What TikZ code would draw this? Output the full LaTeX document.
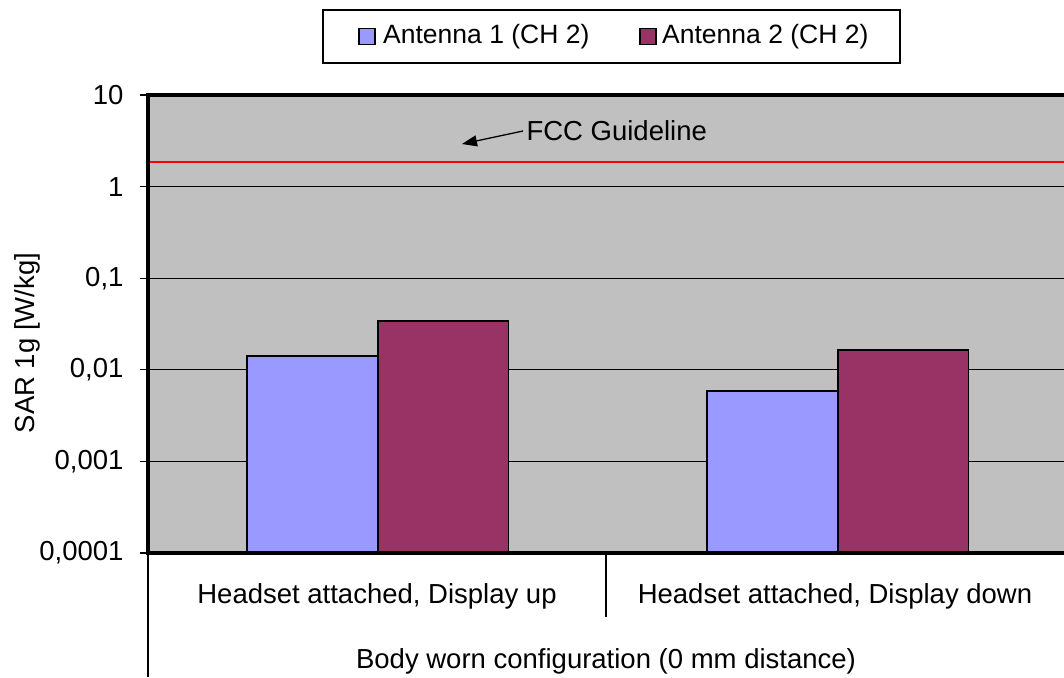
\documentclass[tikz,border=0pt]{standalone}
\usepackage{fontspec}
\setmainfont{Liberation Sans}
\usetikzlibrary{arrows.meta}
\definecolor{plotgray}{HTML}{C0C0C0}
\definecolor{antblue}{HTML}{9999FF}
\definecolor{antred}{HTML}{993366}

\begin{document}
\begin{tikzpicture}[x=1pt,y=-1pt,font=\fontsize{27.5}{31}\selectfont]

\tikzstyle{grid}=[draw=black, line width=1.3pt]
\tikzstyle{axis}=[draw=black, line width=3.5pt]
\tikzstyle{bar}=[draw=black, line width=1.8pt]
\tikzstyle{key}=[draw=black, line width=1.2pt, minimum size=16pt, inner sep=0pt]

\useasboundingbox (0,0) rectangle (1064,677);

% plot area and log grid
\fill[plotgray] (148,95) rectangle (1064,553);
\foreach \lab [count=\i from 0] in {{0,0001},{0,001},{0,01},{0,1},1,10} {
	\pgfmathsetmacro\yy{553-91.6*\i}
	\draw[grid] (140,\yy) -- (1064,\yy);
	\node[anchor=east] (tick\i) at (127,\yy) {\lab};
}

% bars
\foreach \x/\v/\c in {247/0.01416/antblue, 378/0.0332/antred, 707/0.00587/antblue, 838/0.0160/antred} {
	\pgfmathsetmacro\tp{553-91.6*(log10(\v)+4)}
	\filldraw[bar, fill=\c] (\x,553) rectangle (\x+130.5,\tp);
}

\draw[red, line width=2pt] (150,162) -- (1064,162);
\draw[axis] (148,95) -- (1064,95);
\draw[axis] (148,93.25) -- (148,553) -- (1064,553);

\node[anchor=west] (fcc) at (523,131) {FCC Guideline};
\coordinate (fcctip) at (462,144);
\draw[-{Triangle[length=15pt,width=11pt]}, line width=1.3pt] (fcc.west) -- (fcctip);

% category axis
\draw[line width=1.3pt] (148,553) -- (148,677);
\draw[line width=1.3pt] (606,553) -- (606,617);
\node (cat1) at (377,596) {Headset attached, Display up};
\node (cat2) at (835,596) {Headset attached, Display down};
\node (group) at (606,661) {Body worn configuration (0 mm distance)};

\node[rotate=90] (ylabel) at (27,343) {SAR 1g [W/kg]};

% legend
\begin{scope}[font=\fontsize{26.5}{30}\selectfont]
\node[draw=black, line width=1.5pt, minimum width=577pt, minimum height=53pt] (legend) at (611.5,36.5) {};
\node[key, fill=antblue] (key1) at (367,36.5) {};
\node[anchor=west, inner sep=0pt] (lab1) at (383,37) {Antenna 1 (CH 2)};
\node[key, fill=antred] (key2) at (648,36.5) {};
\node[anchor=west, inner sep=0pt] (lab2) at (662,37) {Antenna 2 (CH 2)};
\end{scope}
\end{tikzpicture}
\end{document}
